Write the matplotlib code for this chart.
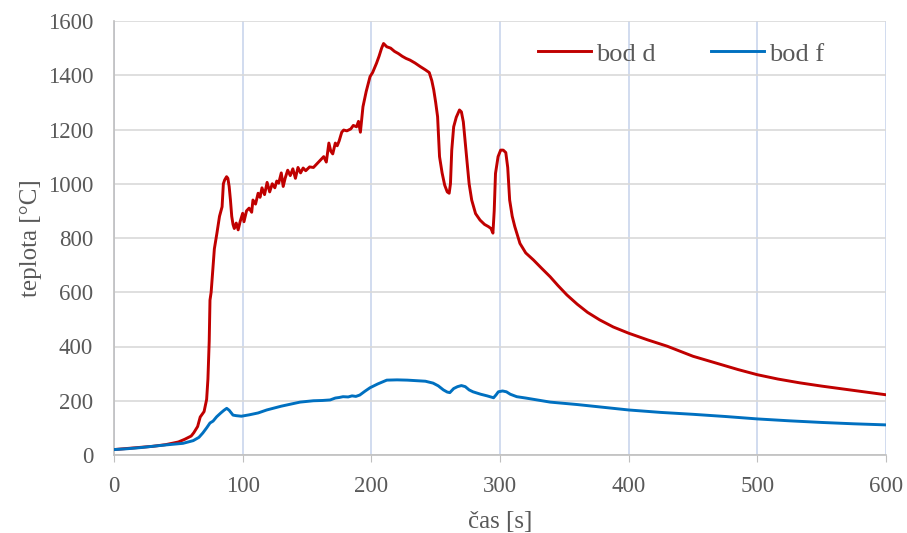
import matplotlib.pyplot as plt

plt.rcParams["font.family"] = ["Liberation Serif", "DejaVu Serif"]

# bod d (čas [s], teplota [°C])
bod_d = [(0, 20), (10, 24), (20, 28), (30, 32), (40, 38), (50, 48), (55, 58), (60, 70),
         (62, 82), (65, 105), (67, 140), (70, 160), (72, 205), (73, 280), (74, 420),
         (74.6, 571), (75.5, 600), (77, 694), (78, 760), (80, 818), (82, 880), (84, 915),
         (85, 1000), (86, 1014), (87.5, 1026), (88.5, 1020), (89.5, 990), (90.5, 940),
         (91.5, 880), (92.5, 850), (93.5, 835), (95, 855), (96.5, 830), (98, 860),
         (100, 891), (101, 860), (103, 900), (105, 910), (107, 895), (108, 940), (110, 925),
         (112, 965), (113.5, 950), (115, 985), (117, 960), (119, 1005), (121, 970),
         (123, 1000), (125, 985), (126.5, 1010), (128, 1002), (130, 1040), (131.5, 990),
         (133, 1020), (135, 1050), (137, 1030), (139, 1055), (141, 1020), (143, 1060),
         (145, 1040), (147, 1058), (149, 1048), (152, 1062), (155, 1060), (158, 1075),
         (161, 1090), (163, 1100), (165, 1080), (167, 1150), (168.5, 1120), (170, 1110),
         (172, 1150), (173.5, 1140), (175, 1158), (177, 1190), (178.5, 1198), (181, 1195),
         (184, 1202), (186, 1215), (188.5, 1210), (190, 1230), (191.5, 1190), (193.5, 1284),
         (196, 1340), (199, 1395), (201, 1410), (204, 1444), (206, 1470), (208, 1500),
         (209.5, 1517), (212, 1505), (215, 1500), (218, 1488), (221, 1480), (224, 1470),
         (227, 1462), (230, 1456), (234, 1445), (238, 1432), (242, 1420), (245, 1410),
         (247, 1380), (248.5, 1346), (250, 1300), (251.5, 1247), (253, 1100), (255, 1040),
         (257, 995), (259, 970), (260.5, 965), (261.5, 1000), (262.5, 1124), (264, 1210),
         (266, 1245), (268.5, 1272), (270, 1265), (271.5, 1228), (273, 1150), (274.5, 1075),
         (276, 1000), (278, 940), (281, 890), (284.5, 866), (288, 850), (291, 842),
         (293, 835), (294.5, 818), (295.5, 900), (296.5, 1038), (298.5, 1100),
         (300.5, 1124), (302.5, 1124), (304.5, 1115), (306, 1060), (307.5, 940),
         (309.5, 880), (311.5, 842), (315.5, 780), (320, 745), (326, 719), (332, 690),
         (339, 657), (345, 625), (352, 590), (360, 556), (368, 526), (377.5, 498),
         (388, 472), (400, 449), (415, 424), (430, 401), (450, 364), (470, 336),
         (485, 315), (500, 296), (516, 280), (533, 266), (550, 254), (567, 243),
         (585, 231), (600, 222)]

# bod f
bod_f = [(0, 20), (10, 23), (20, 27), (28, 31), (40, 37), (53.6, 43), (61.6, 53), (66, 65),
         (69, 81), (72, 100), (74.6, 118), (77, 125), (79.8, 141), (83, 155), (85.5, 165),
         (87.6, 172), (89.5, 165), (92.5, 147), (95, 145), (99, 143), (105, 148), (112, 155),
         (118.7, 166), (130, 180), (144.6, 195), (155, 200), (162, 201), (168, 203),
         (172, 210), (175, 212), (178, 215), (182, 214), (185, 218), (188, 216), (191, 221),
         (195, 235), (199, 248), (205, 262), (212, 276), (220, 277), (228, 276), (235, 274),
         (242, 272), (248, 265), (252, 255), (256, 240), (259, 232), (261, 230), (264, 245),
         (267, 252), (270, 256), (273, 252), (276, 240), (279, 233), (285, 224), (290, 218),
         (295, 211), (297, 222), (298.7, 233), (302, 236), (305, 233), (308, 224), (313, 215),
         (320, 210), (339, 195), (360, 186), (380, 176), (400, 166), (425, 157), (450, 150),
         (475, 142), (500, 133), (525, 126), (550, 120), (575, 115), (600, 111)]

t_d = [p[0] for p in bod_d]
T_d = [p[1] for p in bod_d]
t_f = [p[0] for p in bod_f]
T_f = [p[1] for p in bod_f]

x_ticks = [0, 100, 200, 300, 400, 500, 600]
y_ticks = [0, 200, 400, 600, 800, 1000, 1200, 1400, 1600]

fig = plt.figure(figsize=(9.07, 5.33), dpi=100)
ax = fig.add_axes([114 / 907, 78 / 533, 772 / 907, 434 / 533])

ax.plot(t_d, T_d, color="#C00000", lw=2.1, label="bod d", zorder=3)
ax.plot(t_f, T_f, color="#0070C0", lw=2.1, label="bod f", zorder=3)

ax.set_xlim(0, 600)
ax.set_ylim(0, 1600)
ax.set_xticks(x_ticks)
ax.set_yticks(y_ticks)
ax.grid(axis="y", color="#d9d9d9", lw=1.2, zorder=0)
ax.grid(axis="x", color="#c9d5ec", lw=1.2, zorder=0)

for s in ["top", "right"]:
    ax.spines[s].set_visible(False)
for s in ["left", "bottom"]:
    ax.spines[s].set_color("#bfbfbf")
    ax.spines[s].set_linewidth(1.2)

ax.tick_params(axis="y", length=0, pad=15, labelsize=16.5, labelcolor="#595959")
ax.tick_params(axis="x", length=5, color="#bfbfbf", pad=10, labelsize=16.5, labelcolor="#595959")

ax.set_xlabel("čas [s]", fontsize=18, color="#595959", labelpad=10)
ax.set_ylabel("teplota [°C]", fontsize=18, color="#595959", labelpad=4)

ax.legend(loc="center left", bbox_to_anchor=(0.549, 0.924), ncol=2, frameon=False,
          fontsize=19, handlelength=2.0, columnspacing=2.1, handletextpad=0.2,
          borderpad=0, borderaxespad=0, labelcolor="#595959")

fig.savefig("out.png", dpi=100)
